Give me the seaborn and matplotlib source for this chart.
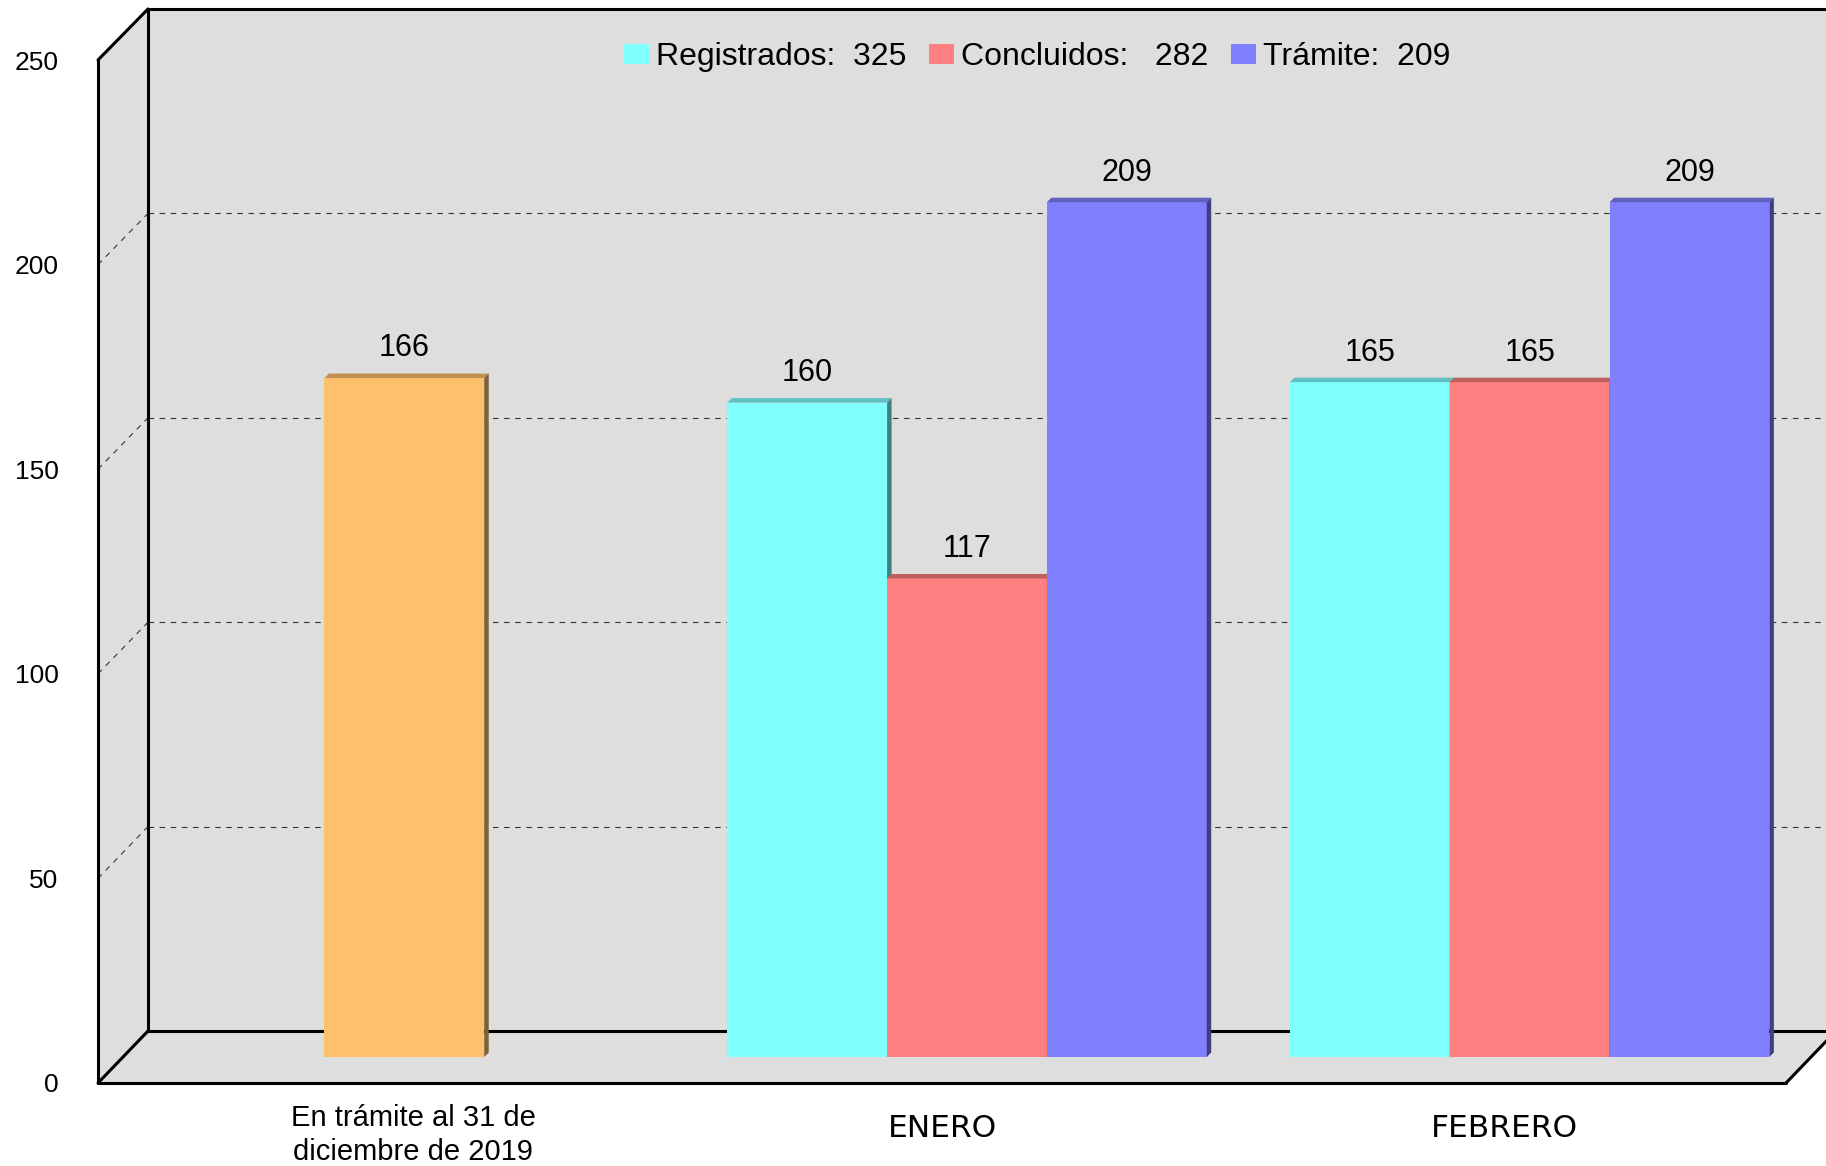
import numpy as np
import pandas as pd
import seaborn as sns
import matplotlib.pyplot as plt
from matplotlib.patches import Polygon, Patch
from matplotlib.lines import Line2D
from matplotlib.colors import to_rgba
from matplotlib.transforms import ScaledTranslation

# data
categories = ["En trámite al 31 de\ndiciembre de 2019", "ENERO", "FEBRERO"]
carry_over = [166]
months = ["ENERO", "FEBRERO"]
series = ["Registrados", "Concluidos", "Trámite"]
registrados = [160, 165]
concluidos = [117, 165]
tramite = [209, 209]
legend_labels = ["Registrados:  325", "Concluidos:   282", "Trámite:  209"]
y_ticks = [0, 50, 100, 150, 200, 250]

palette = {"Registrados": "#80FFFF", "Concluidos": "#FF8080", "Trámite": "#8080FF"}
orange = "#FFC06B"
wall = "#DEDEDE"

sns.set_style("white")
plt.rcParams['font.family'] = ['Liberation Sans', 'DejaVu Sans']
for key in ['text.color', 'axes.labelcolor', 'xtick.color', 'ytick.color']:
    plt.rcParams[key] = 'black'

W, H = 1826, 1166
fig = plt.figure(figsize=(W / 100, H / 100), dpi=100)
to_fig = fig.transFigure.inverted()


def box(x0, y0, x1, y1):
    # pixel box, top-left origin -> figure fraction rect
    return [x0 / W, 1 - y1 / H, (x1 - x0) / W, (y1 - y0) / H]


# three depth planes of the fake 3d box: back wall, bars, front (axis labels)
ax_back = fig.add_axes(box(148, 9, 1836, 1031), zorder=1)
ax = fig.add_axes(box(123, 34.5, 1811, 1057), zorder=2)
ax_front = fig.add_axes(box(98, 60, 1786, 1083), zorder=3)

for a in (ax_back, ax, ax_front):
    a.set_ylim(0, 250)
ax_front.set_xlim(-0.5, 2.5)

# back wall
ax_back.set_facecolor(wall)
ax_back.set_xlim(0, 1)
ax_back.set_yticks(y_ticks)
ax_back.set_xticks([])
ax_back.tick_params(length=0, labelleft=False)
ax_back.yaxis.grid(True, linestyle=(0, (5, 5)), color='#333333', linewidth=0.8)
for side in ['top', 'left', 'bottom']:
    ax_back.spines[side].set_color('black')
    ax_back.spines[side].set_linewidth(2.2)
ax_back.spines['right'].set_visible(False)


def fpt(a, x, y, trans=None):
    trans = trans or a.transAxes
    return to_fig.transform(trans.transform((x, y)))


fl_top, fl_bot = fpt(ax_front, 0, 1), fpt(ax_front, 0, 0)
fr_bot = fpt(ax_front, 1, 0)
bl_top, bl_bot = fpt(ax_back, 0, 1), fpt(ax_back, 0, 0)
br_bot = fpt(ax_back, 1, 0)

# side wall and floor
fig.add_artist(Polygon([fl_top, bl_top, bl_bot, fl_bot], closed=True, facecolor=wall,
                       edgecolor='none', transform=fig.transFigure, zorder=0.1))
fig.add_artist(Polygon([fl_bot, fr_bot, br_bot, bl_bot], closed=True, facecolor=wall,
                       edgecolor='none', transform=fig.transFigure, zorder=0.1))
for v in y_ticks[1:-1]:
    p0 = fpt(ax_front, -0.5, v, ax_front.transData)
    p1 = fpt(ax_back, 0, v, ax_back.transData)
    fig.add_artist(Line2D([p0[0], p1[0]], [p0[1], p1[1]], transform=fig.transFigure,
                          color='#333333', lw=0.8, linestyle=(0, (5, 5)), zorder=0.2))
for a, b in [(fl_top, fl_bot), (fl_top, bl_top), (fl_bot, bl_bot), (fl_bot, fr_bot), (fr_bot, br_bot)]:
    fig.add_artist(Line2D([a[0], b[0]], [a[1], b[1]], transform=fig.transFigure,
                          color='black', lw=2.2, solid_capstyle='round', zorder=0.3))

# bars
df_carry = pd.DataFrame({"periodo": [categories[0]], "valor": carry_over})
df = pd.DataFrame({
    "periodo": months * len(series),
    "serie": np.repeat(series, len(months)),
    "valor": registrados + concluidos + tramite,
})
bar_w = 0.284
sns.barplot(data=df_carry, x="periodo", y="valor", order=categories, color=orange,
            saturation=1, width=bar_w, errorbar=None, ax=ax)
sns.barplot(data=df, x="periodo", y="valor", hue="serie", order=categories,
            hue_order=series, palette=palette, saturation=1, width=bar_w * 3,
            errorbar=None, legend=False, ax=ax)
ax.set_xlim(-0.5, 2.5)
ax.set_ylim(0, 250)
ax.axis('off')

# little 3d bevel on each bar
d = 4.5
bars = sorted(ax.patches, key=lambda p: p.get_x())
for i, p in enumerate(bars):
    z = 2 + 3 * i
    p.set_zorder(z)
    p.set_linewidth(0)
    fc = np.array(to_rgba(p.get_facecolor()))
    x0, y0 = ax.transData.transform((p.get_x(), p.get_y()))
    x1, y1 = ax.transData.transform((p.get_x() + p.get_width(), p.get_y() + p.get_height()))
    top = to_fig.transform([(x0, y1), (x1, y1), (x1 + d, y1 + d), (x0 + d, y1 + d)])
    side = to_fig.transform([(x1, y0), (x1 + d, y0 + d), (x1 + d, y1 + d), (x1, y1)])
    ax.add_patch(Polygon(top, closed=True, transform=fig.transFigure, clip_on=False, lw=0,
                         facecolor=(*fc[:3] * 0.75, 1), zorder=z + 1))
    ax.add_patch(Polygon(side, closed=True, transform=fig.transFigure, clip_on=False, lw=0,
                         facecolor=(*fc[:3] * 0.5, 1), zorder=z + 1))

for c in ax.containers:
    for t in ax.bar_label(c, fmt='{:.0f}', padding=10.5, fontsize=22):
        t.set_zorder(50)

# front plane carries the axis labels
ax_front.patch.set_visible(False)
for s in ax_front.spines.values():
    s.set_visible(False)
ax_front.set_yticks(y_ticks)
ax_front.set_xticks(range(len(categories)), categories)
ax_front.tick_params(axis='y', length=0, pad=28.5, labelsize=19)
ax_front.tick_params(axis='x', length=0, pad=32.5, labelsize=21)
for i, lbl in enumerate(ax_front.get_xticklabels()):
    lbl.set_va('center')
    if i == 0:
        lbl.set_linespacing(1.25)
        lbl.set_transform(lbl.get_transform() + ScaledTranslation(0.34, -0.07, fig.dpi_scale_trans))
    else:
        # month names are set in a wider face in the original
        lbl.set_family('DejaVu Sans')
        lbl.set_fontsize(22.5)

handles = [Patch(facecolor=palette[s], edgecolor='none') for s in series]
fig.legend(handles, legend_labels, loc='center', bbox_to_anchor=(0.568, 0.951), ncol=3,
           frameon=False, fontsize=23, handlelength=0.8, handleheight=0.62,
           handletextpad=0.22, columnspacing=0.69, borderpad=0)

fig.savefig('out.png', dpi=100, facecolor='white')
